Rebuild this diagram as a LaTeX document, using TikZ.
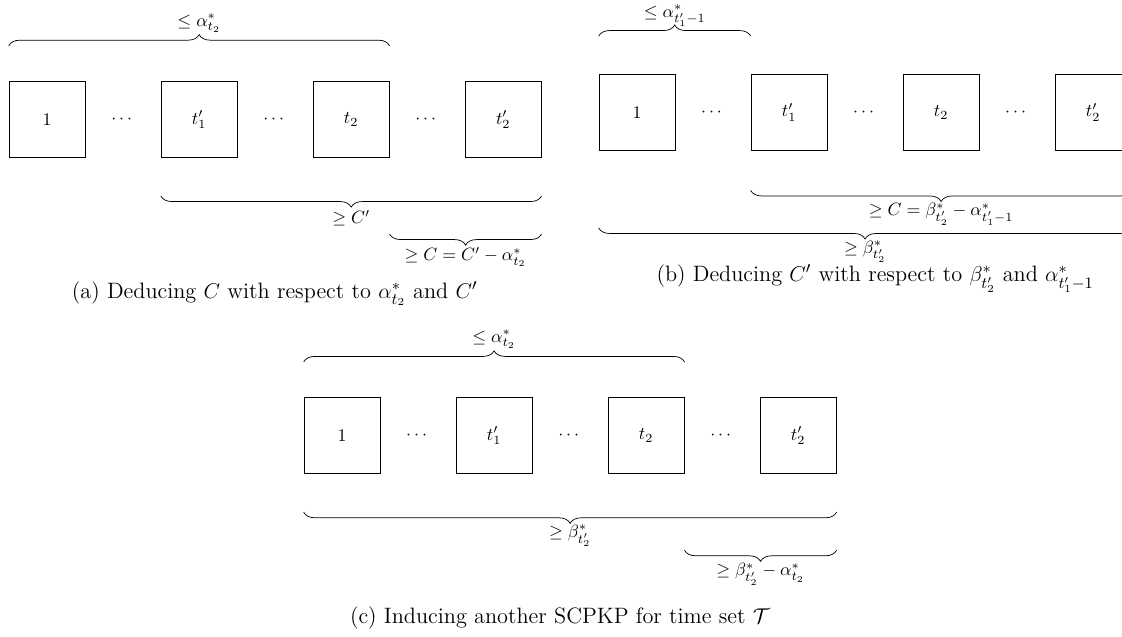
\documentclass[tikz,border=0pt]{standalone}
\usepackage{amsmath}
\usetikzlibrary{decorations.pathreplacing}

\tikzset{
  cell/.style={draw, minimum width=1.5cm, minimum height=1.5cm, inner sep=0pt},
  brc/.style={decorate, decoration={brace, amplitude=0.22cm}},
  capt/.style={font=\fontsize{12.5}{15}\selectfont},
}

\begin{document}
\begin{tikzpicture}
  \useasboundingbox (0,0) rectangle (22.14,-12.55);
  \clip (0,0) rectangle (22.14,-12.55);

  % (a)
  \begin{scope}[shift={(0.93,-2.36)}]
    \node[cell] (a1) at (0,0) {$1$};
    \node (ad1) at (1.5,0) {$\cdots$};
    \node[cell] (a2) at (3,0) {$t'_1$};
    \node (ad2) at (4.5,0) {$\cdots$};
    \node[cell] (a3) at (6,0) {$t_2$};
    \node (ad3) at (7.5,0) {$\cdots$};
    \node[cell] (a4) at (9,0) {$t'_2$};
    \draw[brc] ([yshift=0.7cm]a1.north west) -- ([yshift=0.7cm]a3.north east)
      node[midway, above=0.14cm] {$\leq \alpha^*_{t_2}$};
    \draw[brc] ([yshift=-0.75cm]a4.south east) -- ([yshift=-0.75cm]a2.south west)
      node[midway, below=0.16cm] {$\geq C'$};
    \draw[brc] ([yshift=-1.5cm]a4.south east) -- ([yshift=-1.5cm]a3.south east)
      node[midway, below=0.14cm] {$\geq C = C' - \alpha^*_{t_2}$};
  \end{scope}
  \node[capt] (capa) at (5.42,-5.8) {(a) Deducing $C$ with respect to $\alpha^*_{t_2}$ and $C'$};

  % (b)
  \begin{scope}[shift={(12.57,-2.22)}]
    \node[cell] (b1) at (0,0) {$1$};
    \node (bd1) at (1.5,0) {$\cdots$};
    \node[cell] (b2) at (3,0) {$t'_1$};
    \node (bd2) at (4.5,0) {$\cdots$};
    \node[cell] (b3) at (6,0) {$t_2$};
    \node (bd3) at (7.5,0) {$\cdots$};
    \node[cell] (b4) at (9,0) {$t'_2$};
    \draw[brc] ([yshift=0.75cm]b1.north west) -- ([yshift=0.75cm]b2.north west)
      node[midway, above=0.06cm] {$\leq \alpha^*_{t'_1-1}$};
    \draw[brc] ([yshift=-0.78cm]b4.south east) -- ([yshift=-0.78cm]b2.south west)
      node[midway, below=0.13cm] {$\geq C = \beta^*_{t'_2} - \alpha^*_{t'_1-1}$};
    \draw[brc] ([yshift=-1.52cm]b4.south east) -- ([yshift=-1.52cm]b1.south west)
      node[midway, below=0.13cm] {$\geq \beta^*_{t'_2}$};
  \end{scope}
  \node[capt] (capb) at (17.27,-5.5) {(b) Deducing $C'$ with respect to $\beta^*_{t'_2}$ and $\alpha^*_{t'_1-1}$};

  % (c)
  \begin{scope}[shift={(6.75,-8.60)}]
    \node[cell] (c1) at (0,0) {$1$};
    \node (cd1) at (1.5,0) {$\cdots$};
    \node[cell] (c2) at (3,0) {$t'_1$};
    \node (cd2) at (4.5,0) {$\cdots$};
    \node[cell] (c3) at (6,0) {$t_2$};
    \node (cd3) at (7.5,0) {$\cdots$};
    \node[cell] (c4) at (9,0) {$t'_2$};
    \draw[brc] ([yshift=0.7cm]c1.north west) -- ([yshift=0.7cm]c3.north east)
      node[midway, above=0.14cm] {$\leq \alpha^*_{t_2}$};
    \draw[brc] ([yshift=-0.75cm]c4.south east) -- ([yshift=-0.75cm]c1.south west)
      node[midway, below=0.13cm] {$\geq \beta^*_{t'_2}$};
    \draw[brc] ([yshift=-1.5cm]c4.south east) -- ([yshift=-1.5cm]c3.south east)
      node[midway, below=0.14cm] {$\geq \beta^*_{t'_2} - \alpha^*_{t_2}$};
  \end{scope}
  \node[capt] (capc) at (11.05,-12.2) {(c) Inducing another SCPKP for time set $\mathcal{T}$};
\end{tikzpicture}
\end{document}
